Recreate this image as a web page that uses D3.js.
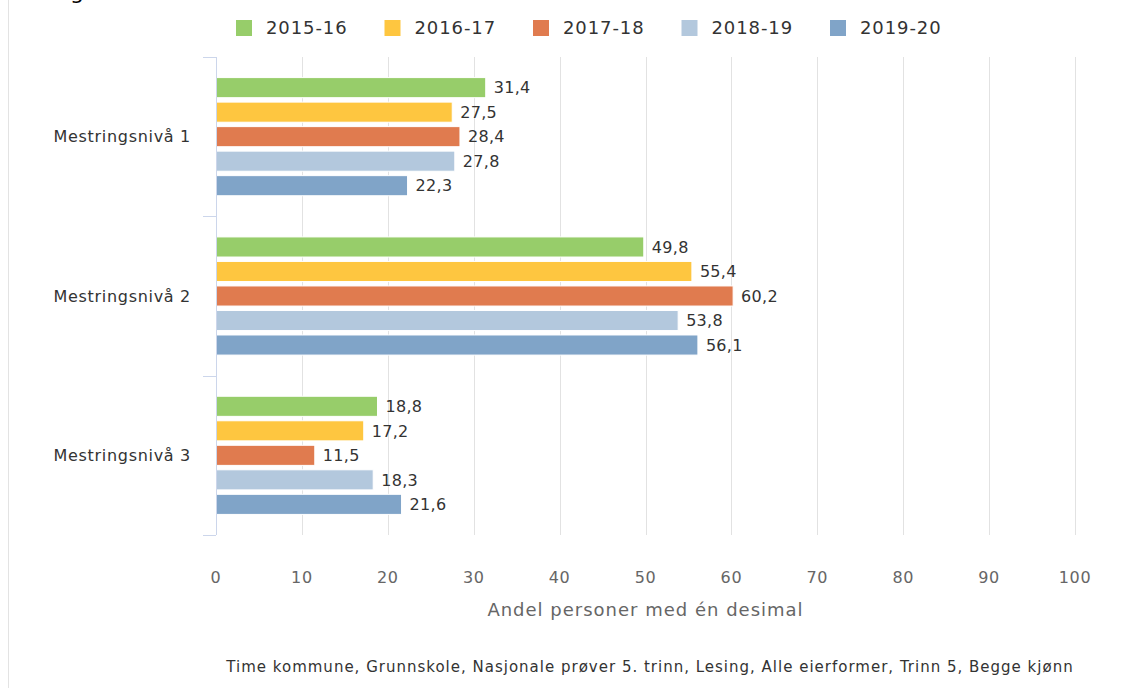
<!DOCTYPE html>
<html>
<head>
<meta charset="utf-8">
<script src="https://cdn.jsdelivr.net/npm/d3@7"></script>
<style>
  body { margin: 0; background: #fff; }
  svg text { font-family: "DejaVu Sans", Verdana, sans-serif; }
</style>
</head>
<body>
<div id="chart"></div>
<script>
// data
const categories = ["Mestringsnivå 1", "Mestringsnivå 2", "Mestringsnivå 3"];
const seriesNames = ["2015-16", "2016-17", "2017-18", "2018-19", "2019-20"];
const s2015 = [31.4, 49.8, 18.8];
const s2016 = [27.5, 55.4, 17.2];
const s2017 = [28.4, 60.2, 11.5];
const s2018 = [27.8, 53.8, 18.3];
const s2019 = [22.3, 56.1, 21.6];
const xTicks = [0, 10, 20, 30, 40, 50, 60, 70, 80, 90, 100];
const colors = ["#97cd6a", "#fec640", "#e07b4f", "#b3c8dd", "#80a4c8"];

const seriesValues = [s2015, s2016, s2017, s2018, s2019];

const W = 1122, H = 688;
const plot = { left: 216, right: 1075, top: 57, bottom: 535 };

const svg = d3.select("#chart").append("svg")
  .attr("width", W)
  .attr("height", H);

// cut-off title above (only descender visible)
svg.append("text")
  .attr("x", 70).attr("y", -1)
  .style("font-size", "22px")
  .style("fill", "#000")
  .text("g");

// left border of the page
svg.append("line")
  .attr("x1", 8.5).attr("x2", 8.5)
  .attr("y1", 0).attr("y2", H)
  .style("stroke", "#e3e3e3");

let x = d3.scaleLinear().domain([0, 100]).range([plot.left, plot.right]);
let y = d3.scaleBand().domain(categories).range([plot.top, plot.bottom]);
let ySub = d3.scaleBand().domain(seriesNames)
  .range([0, y.bandwidth()])
  .paddingInner(0.18)
  .paddingOuter(0.84);

// grid
svg.append("g")
  .selectAll("line")
  .data(xTicks.slice(1))
  .enter().append("line")
  .attr("x1", d => Math.round(x(d)) + 0.5)
  .attr("x2", d => Math.round(x(d)) + 0.5)
  .attr("y1", plot.top)
  .attr("y2", plot.bottom)
  .style("stroke", "#e2e2e2");

// x tick labels
svg.append("g")
  .selectAll("text")
  .data(xTicks)
  .enter().append("text")
  .attr("x", d => x(d))
  .attr("y", 583)
  .attr("text-anchor", "middle")
  .style("font-size", "16px")
  .style("letter-spacing", "0.6px")
  .style("fill", "#666")
  .text(d => d);

// x axis title
svg.append("text")
  .attr("x", (plot.left + plot.right) / 2)
  .attr("y", 616)
  .attr("text-anchor", "middle")
  .style("font-size", "18px")
  .style("letter-spacing", "1px")
  .style("fill", "#666")
  .text("Andel personer med én desimal");

// bars
const groups = svg.selectAll(".grp")
  .data(categories)
  .enter().append("g")
  .attr("class", "grp")
  .attr("transform", d => "translate(0," + y(d) + ")");

groups.each(function (cat, ci) {
  const g = d3.select(this);
  seriesNames.forEach((s, si) => {
    const v = seriesValues[si][ci];
    g.append("rect")
      .attr("x", x(0))
      .attr("y", ySub(s))
      .attr("width", x(v) - x(0))
      .attr("height", ySub.bandwidth())
      .style("fill", colors[si])
      .style("stroke", "#fff")
      .style("stroke-width", 1);
    g.append("text")
      .attr("x", x(v) + 8)
      .attr("y", ySub(s) + ySub.bandwidth() / 2)
      .attr("dy", "0.36em")
      .style("font-size", "16px")
      .style("letter-spacing", "0.3px")
      .style("fill", "#333")
      .text(d3.format(".1f")(v).replace(".", ","));
  });
});

// y axis line + ticks at category edges
svg.append("line")
  .attr("x1", plot.left + 0.5).attr("x2", plot.left + 0.5)
  .attr("y1", plot.top).attr("y2", plot.bottom)
  .style("stroke", "#ccd6eb");

const edges = categories.map(c => y(c)).concat([plot.bottom]);
svg.append("g")
  .selectAll("line")
  .data(edges)
  .enter().append("line")
  .attr("x1", plot.left - 13).attr("x2", plot.left)
  .attr("y1", d => Math.round(d) + 0.5)
  .attr("y2", d => Math.round(d) + 0.5)
  .style("stroke", "#ccd6eb");

// category labels
svg.append("g")
  .selectAll("text")
  .data(categories)
  .enter().append("text")
  .attr("x", 191)
  .attr("y", d => y(d) + y.bandwidth() / 2)
  .attr("dy", "0.36em")
  .attr("text-anchor", "end")
  .style("font-size", "16px")
  .style("letter-spacing", "0.7px")
  .style("fill", "#333")
  .text(d => d);

// legend
const legend = svg.append("g")
  .selectAll("g")
  .data(seriesNames)
  .enter().append("g")
  .attr("transform", (d, i) => "translate(" + (236 + i * 148.5) + ",20)");

legend.append("rect")
  .attr("width", 16).attr("height", 16)
  .style("fill", (d, i) => colors[i]);

legend.append("text")
  .attr("x", 30).attr("y", 8)
  .attr("dy", "0.36em")
  .style("font-size", "18px")
  .style("letter-spacing", "0.9px")
  .style("fill", "#333")
  .text(d => d);

// caption
svg.append("text")
  .attr("x", 650)
  .attr("y", 672)
  .attr("text-anchor", "middle")
  .style("font-size", "15px")
  .style("letter-spacing", "1px")
  .style("fill", "#333")
  .text("Time kommune, Grunnskole, Nasjonale prøver 5. trinn, Lesing, Alle eierformer, Trinn 5, Begge kjønn");
</script>
</body>
</html>
